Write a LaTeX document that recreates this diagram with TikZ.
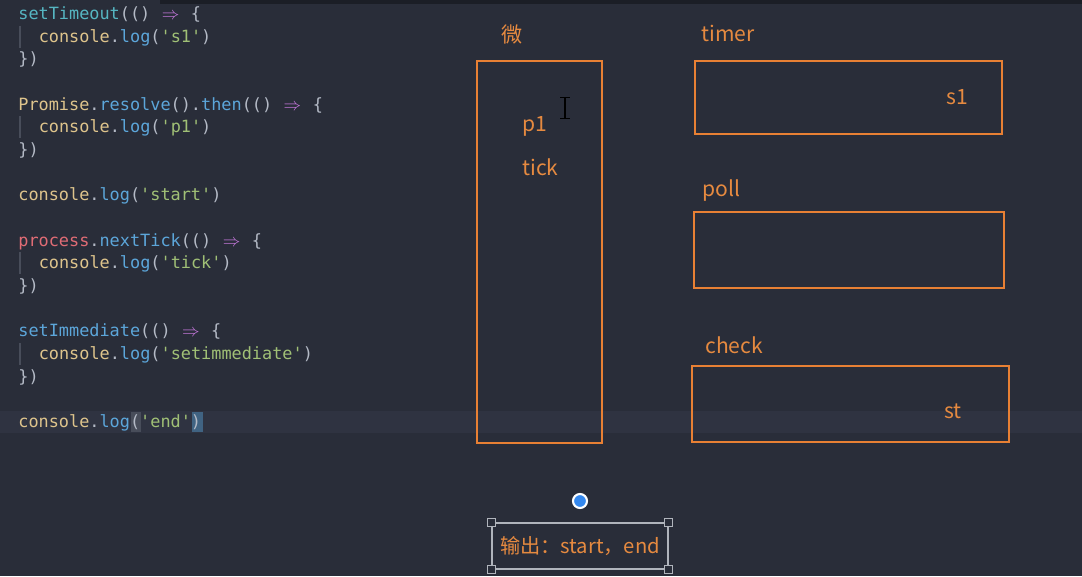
\documentclass[tikz,border=0pt]{standalone}
\usepackage{fontspec}
\setmonofont{DejaVu Sans Mono}
\newfontfamily\cjkfont{Noto Sans CJK SC}
\usetikzlibrary{positioning}

\definecolor{bgdark}{RGB}{41,45,57}
\definecolor{bgline}{RGB}{47,51,65}
\definecolor{topbar}{RGB}{27,30,38}
\definecolor{orangeline}{RGB}{232,128,52}
\definecolor{orangetext}{RGB}{230,138,64}
\definecolor{cfn}{RGB}{86,182,194}
\definecolor{cmeth}{RGB}{92,166,218}
\definecolor{cobj}{RGB}{222,196,140}
\definecolor{cproc}{RGB}{224,108,117}
\definecolor{cstr}{RGB}{160,192,118}
\definecolor{cpun}{RGB}{180,186,198}
\definecolor{carrow}{RGB}{198,120,221}
\definecolor{cguide}{RGB}{72,77,90}
\definecolor{handle}{RGB}{176,180,188}
\definecolor{dotblue}{RGB}{52,136,238}

\newcommand{\tfn}[1]{\textcolor{cfn}{#1}}
\newcommand{\tmeth}[1]{\textcolor{cmeth}{#1}}
\newcommand{\tobj}[1]{\textcolor{cobj}{#1}}
\newcommand{\tproc}[1]{\textcolor{cproc}{#1}}
\newcommand{\tstr}[1]{\textcolor{cstr}{#1}}
\newcommand{\tpun}[1]{\textcolor{cpun}{#1}}
\newcommand{\tarr}{\textcolor{carrow}{\makebox[1.2em]{$\Rightarrow$}}}

\begin{document}
\begin{tikzpicture}[x=0.02cm, y=-0.02cm]
	\tikzset{codeline/.style={anchor=base west, inner sep=0pt, font=\ttfamily\fontsize{9.6pt}{11pt}\selectfont},
		queuebox/.style={rectangle, draw=orangeline, line width=1.1pt, inner sep=0pt},
		queuelabel/.style={text=orangetext, font=\cjkfont\fontsize{12pt}{14pt}\selectfont, inner sep=0pt},
		outbox/.style={rectangle, draw=handle, line width=0.6pt, inner sep=0pt, text=orangetext,
			font=\cjkfont\fontsize{11.5pt}{14pt}\selectfont},
		grip/.style={rectangle, draw=handle, fill=bgdark, line width=0.6pt, minimum size=0.17cm, inner sep=0pt},
		rotdot/.style={circle, fill=dotblue, draw=white, line width=1.2pt, minimum size=0.28cm, inner sep=0pt}};

	\useasboundingbox (0,0) rectangle (1082,576);
	\fill[bgdark] (0,0) rectangle (1082,576);
	\fill[topbar] (160,0) rectangle (1082,4);
	\fill[bgline] (0,411) rectangle (1082,433);
	% bracket match marks on the last line
	\fill[cguide] (131,412) rectangle (141,432);
	\fill[cmeth!45!bgdark] (192,412) rectangle (203,432);

	% code
	\foreach \i/\ind/\code in {
		0/0/{\tfn{setTimeout}\tpun{(()}\ \tarr\ \tpun{\{}},
		1/2/{\tobj{console}\tpun{.}\tmeth{log}\tpun{(}\tstr{'s1'}\tpun{)}},
		2/0/{\tpun{\})}},
		4/0/{\tobj{Promise}\tpun{.}\tmeth{resolve}\tpun{().}\tmeth{then}\tpun{(()}\ \tarr\ \tpun{\{}},
		5/2/{\tobj{console}\tpun{.}\tmeth{log}\tpun{(}\tstr{'p1'}\tpun{)}},
		6/0/{\tpun{\})}},
		8/0/{\tobj{console}\tpun{.}\tmeth{log}\tpun{(}\tstr{'start'}\tpun{)}},
		10/0/{\tproc{process}\tpun{.}\tmeth{nextTick}\tpun{(()}\ \tarr\ \tpun{\{}},
		11/2/{\tobj{console}\tpun{.}\tmeth{log}\tpun{(}\tstr{'tick'}\tpun{)}},
		12/0/{\tpun{\})}},
		14/0/{\tmeth{setImmediate}\tpun{(()}\ \tarr\ \tpun{\{}},
		15/2/{\tobj{console}\tpun{.}\tmeth{log}\tpun{(}\tstr{'setimmediate'}\tpun{)}},
		16/0/{\tpun{\})}},
		18/0/{\tobj{console}\tpun{.}\tmeth{log}\tpun{(}\tstr{'end'}\tpun{)}}}{
		\node[codeline] (code\i) at ({18+\ind*10.2}, {19.5+\i*22.67}) {\code};
	}
	\foreach \i in {1, 5, 11, 15}{
		\draw[cguide, line width=0.6pt] (20, {3+\i*22.67}) -- (20, {25+\i*22.67});
	}

	% queues
	\node[queuebox, minimum width={125*0.02cm}, minimum height={382*0.02cm}] (micro) at (539.5,252) {};
	\node[queuelabel] (micro-label) at (512,35) {微};
	\node[queuelabel, anchor=west] (p1) at (522,126) {p1};
	\node[queuelabel, anchor=west] (tick) at (522,167) {tick};
	\foreach \name/\xa/\ya/\xb/\yb/\lx/\ly in {timer/695/61/1002/134/701/33,
		poll/694/212/1004/288/702/191, check/692/366/1009/442/705/345}{
		\node[queuebox, minimum width={(\xb-\xa)*0.02cm}, minimum height={(\yb-\ya)*0.02cm}] (\name)
			at ({(\xa+\xb)/2}, {(\ya+\yb)/2}) {};
		\node[queuelabel, anchor=west] (\name-label) at (\lx,\ly) {\name};
	}
	\node[queuelabel] (s1) at (957,97) {s1};
	\node[queuelabel] (st) at (953,411) {st};

	% mouse cursor
	\draw[black, line width=1.2pt] (565,98) -- (565,118);
	\draw[black, line width=1pt] (560,97.5) -- (570,97.5) (560,118.5) -- (570,118.5);

	% output
	\node[outbox, minimum width={176*0.02cm}, minimum height={46*0.02cm}] (out) at (580,546) {输出：start，end};
	\foreach \a/\n in {north west/1, north east/2, south west/3, south east/4}{
		\node[grip] (grip\n) at (out.\a) {};
	}
	\node[rotdot] (rot) at (580,501) {};
\end{tikzpicture}
\end{document}
